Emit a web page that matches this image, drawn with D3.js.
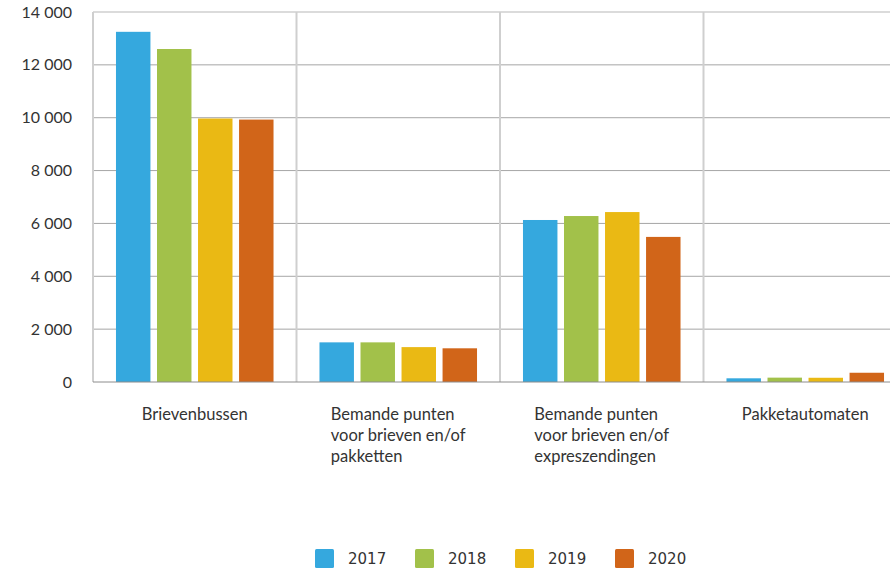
<!DOCTYPE html>
<html>
<head>
<meta charset="utf-8">
<script src="https://cdn.jsdelivr.net/npm/d3@7"></script>
<style>
  html, body { margin: 0; padding: 0; background: #fff; }
  svg { display: block; }
</style>
</head>
<body>
<svg id="chart" width="890" height="568"></svg>
<script>
const categories = [
  "Brievenbussen",
  "Bemande punten voor brieven en/of pakketten",
  "Bemande punten voor brieven en/of expreszendingen",
  "Pakketautomaten"
];
const categoryLines = [
  ["Brievenbussen"],
  ["Bemande punten", "voor brieven en/of", "pakketten"],
  ["Bemande punten", "voor brieven en/of", "expreszendingen"],
  ["Pakketautomaten"]
];
const years = ["2017", "2018", "2019", "2020"];
const values2017 = [13250, 1500, 6130, 140];
const values2018 = [12600, 1500, 6280, 165];
const values2019 = [9970, 1320, 6430, 160];
const values2020 = [9930, 1275, 5490, 350];
const seriesValues = [values2017, values2018, values2019, values2020];
const colors = ["#35a8de", "#a2c14a", "#eab914", "#d16519"];
const yTicks = [0, 2000, 4000, 6000, 8000, 10000, 12000, 14000];

const svg = d3.select("#chart");
const margin = { left: 93, top: 12 };
const plotRight = 907;
const plotBottom = 382;

const x0 = d3.scaleBand().domain(categories).range([margin.left, plotRight]).padding(0);
const x1 = d3.scaleBand().domain(years).range([0, x0.bandwidth()]).paddingInner(0.16).paddingOuter(0.56);
const y = d3.scaleLinear().domain([0, 14000]).range([plotBottom, margin.top]);

const fmt = v => d3.format(",")(v).replace(/,/g, " ");

// horizontal gridlines
svg.append("g").selectAll("line").data(yTicks.filter(t => t > 0 && t < 14000)).join("line")
  .attr("x1", margin.left).attr("x2", plotRight)
  .attr("y1", d => y(d)).attr("y2", d => y(d))
  .attr("stroke", "#a6a6a6").attr("stroke-width", 1);
// top line
svg.append("line").attr("x1", margin.left).attr("x2", plotRight)
  .attr("y1", y(14000)).attr("y2", y(14000))
  .attr("stroke", "#cfcfcf").attr("stroke-width", 1.5);

// vertical separators
svg.append("g").selectAll("line").data(categories).join("line")
  .attr("x1", d => x0(d)).attr("x2", d => x0(d))
  .attr("y1", y(14000)).attr("y2", plotBottom)
  .attr("stroke", "#cfcfcf").attr("stroke-width", 2);

// bars
const groups = svg.append("g").selectAll("g").data(categories).join("g")
  .attr("transform", d => `translate(${x0(d)},0)`);
groups.selectAll("rect")
  .data((c, ci) => years.map((yr, si) => ({ yr, si, v: seriesValues[si][ci] })))
  .join("rect")
  .attr("x", d => x1(d.yr))
  .attr("width", x1.bandwidth())
  .attr("y", d => y(d.v))
  .attr("height", d => plotBottom - y(d.v))
  .attr("fill", d => colors[d.si]);

// zero line
svg.append("line").attr("x1", margin.left).attr("x2", plotRight)
  .attr("y1", plotBottom).attr("y2", plotBottom)
  .attr("stroke", "#8c8c8c").attr("stroke-width", 1);

// y axis labels
const yAxis = d3.axisLeft(y).tickValues(yTicks).tickSize(0).tickPadding(21)
  .tickFormat(d => fmt(d));
const ya = svg.append("g").attr("transform", `translate(${margin.left},0)`).call(yAxis);
ya.select(".domain").remove();
ya.selectAll("text").attr("font-family", "Lato, 'Open Sans', sans-serif")
  .attr("font-size", 16).attr("fill", "#333");

// category labels
const lblG = svg.append("g");
categories.forEach((c, i) => {
  const t = lblG.append("text")
    .attr("font-family", "Lato, 'Noto Sans', sans-serif")
    .attr("font-size", 16.5).attr("fill", "#333");
  categoryLines[i].forEach((ln, j) => {
    t.append("tspan").attr("x", 0).attr("y", 420 + j * 21).text(ln);
  });
  const w = t.node().getBBox().width;
  const cx = x0(c) + x0.bandwidth() / 2;
  t.attr("transform", `translate(${cx - w / 2},0)`);
});

// legend
const leg = svg.append("g");
years.forEach((yr, i) => {
  const g = leg.append("g").attr("transform", `translate(${315 + i * 100},549)`);
  g.append("rect").attr("width", 19).attr("height", 19).attr("rx", 1.5).attr("fill", colors[i]);
  g.append("text").attr("x", 33).attr("y", 14.5)
    .attr("font-family", "'DejaVu Sans', Verdana, sans-serif")
    .attr("font-size", 15).attr("fill", "#333").text(yr);
});
</script>
</body>
</html>
